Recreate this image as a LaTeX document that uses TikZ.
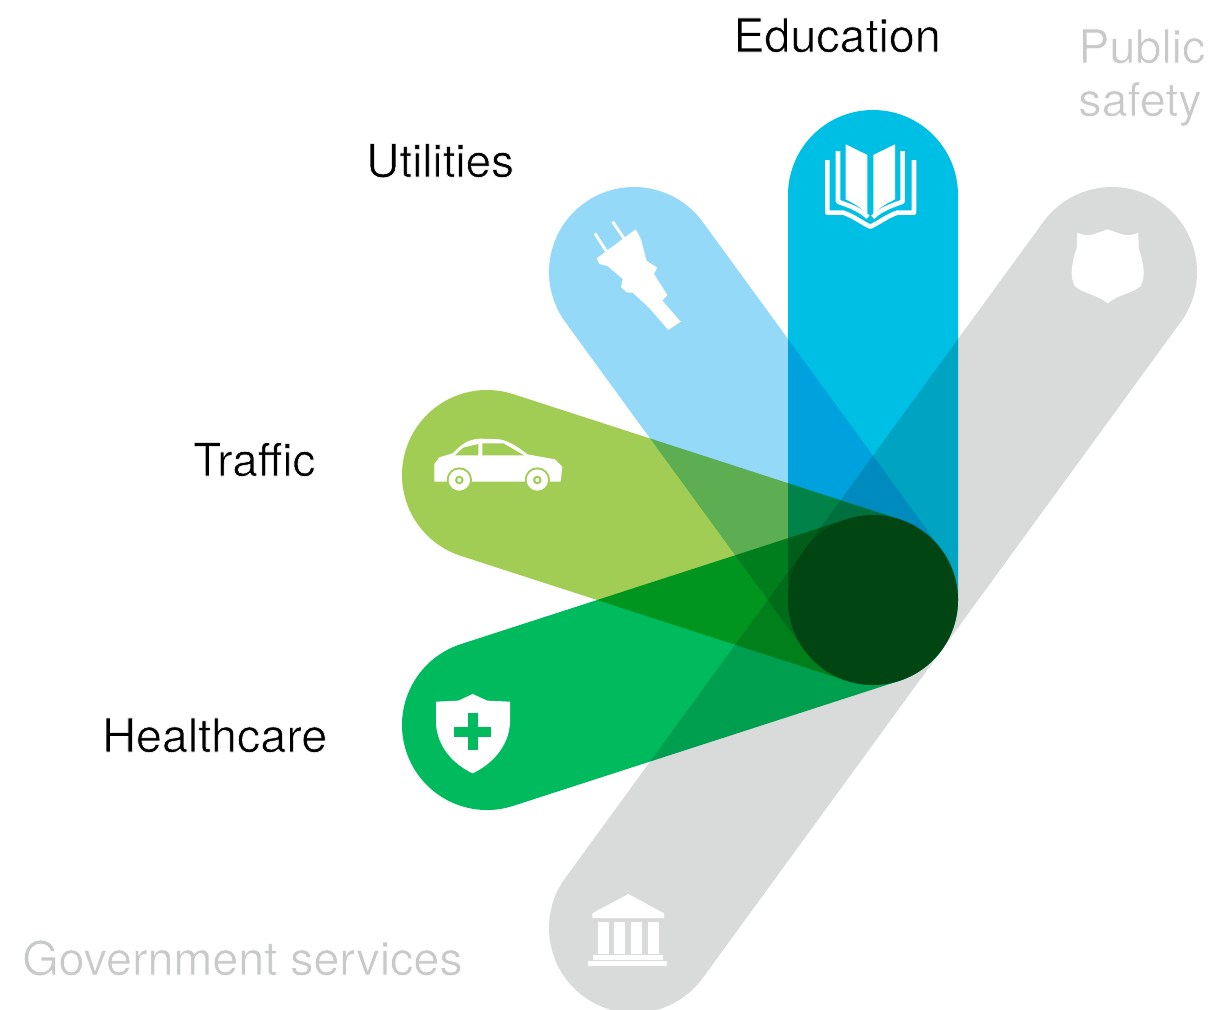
\documentclass[tikz,border=0pt]{standalone}
\usepackage{fontspec}
\setmainfont{TeX Gyre Heros}
\definecolor{edu}{HTML}{00BFE5}
\definecolor{util}{HTML}{94D9F8}
\definecolor{traf}{HTML}{A1CD55}
\definecolor{heal}{HTML}{00BA5E}
\definecolor{gov}{HTML}{D9DBDA}
\definecolor{dimtext}{HTML}{C8CACA}
\newcommand{\lightface}[1]{\special{pdf:code 2 Tr 0.45 w 1 1 1 RG}#1\special{pdf:code 0 Tr 0 0 0 RG}}
\tikzset{
  pill/.style={line width=127.5pt,line cap=round},
  lab/.style={anchor=base west,inner sep=0pt,font=\fontsize{34.4}{40}\selectfont,text=black},
  widelab/.style={lab,font=\fontsize{35}{40}\selectfont},
  dimlab/.style={widelab,text=dimtext},
  icon/.style={fill=white,draw=none},
  iconline/.style={draw=white,line width=3.4pt,line join=round,line cap=butt},
  zoomA/.style={shift={(780,100)},x=.25pt,y=-.25pt},
  zoomB/.style={shift={(540,180)},x=.25pt,y=-.25pt},
  zoomC/.style={shift={(400,400)},x=.25pt,y=-.25pt},
  zoomD/.style={shift={(400,670)},x=.25pt,y=-.25pt},
  zoomE/.style={shift={(560,880)},x=.25pt,y=-.25pt},
}
\begin{document}
\begin{tikzpicture}[x=.75pt,y=-.75pt]
\useasboundingbox (0,0) rectangle (1232,1010);
\clip (0,0) rectangle (1232,1010);
\coordinate (hub) at (873,600);
\coordinate (eduEnd) at (873,195);
\coordinate (utilEnd) at (634,272);
\coordinate (trafEnd) at (487,475);
\coordinate (healEnd) at (487,725);
\coordinate (govEnd) at (634,928);
\coordinate (safeEnd) at (1112,272);
\begin{scope}[blend group=multiply]
  \fill[white] (0,0) rectangle (1232,1010);
  \draw[pill,gov] (hub) -- (safeEnd);
  \draw[pill,gov] (hub) -- (govEnd);
  \draw[pill,heal] (hub) -- (healEnd);
  \draw[pill,traf] (hub) -- (trafEnd);
  \draw[pill,util] (hub) -- (utilEnd);
  \draw[pill,edu] (hub) -- (eduEnd);
\end{scope}
% book
\begin{scope}[zoomA]
  \fill[icon] (197,133) -- (262,165) -- (262,345) .. controls (245,322) and (220,310) .. (197,298) -- cycle;
  \fill[icon] (345,133) -- (280,165) -- (280,345) .. controls (297,322) and (322,310) .. (345,298) -- cycle;
  \draw[iconline] (174,153) -- (174,305) .. controls (210,318) and (240,328) .. (264,352);
  \draw[iconline] (368,153) -- (368,305) .. controls (332,318) and (302,328) .. (278,352);
  \draw[iconline] (142,180) -- (142,338) -- (190,338) .. controls (220,348) and (245,368) .. (271,380) .. controls (297,368) and (322,348) .. (352,338) -- (402,338) -- (402,180);
\end{scope}
% police shield
\begin{scope}[zoomA]
  \fill[icon] (892,398) .. controls (905,405) and (925,408) .. (940,403) -- (983,388) -- (1026,403) .. controls (1041,408) and (1062,405) .. (1075,398) -- (1076,445) .. controls (1092,490) and (1097,530) .. (1082,558) .. controls (1060,580) and (1010,585) .. (983,610) .. controls (956,585) and (906,580) .. (884,558) .. controls (869,530) and (874,490) .. (890,445) -- cycle;
\end{scope}
% plug
\begin{scope}[zoomB]
  \fill[icon,line join=round] (170,235) -- (287,148) -- (302,175) -- (320,243) -- (352,263) -- (342,282) -- (382,345) -- (367,362) -- (422,425) -- (385,450) -- (328,384) -- (278,338) -- (260,337) -- (243,322) -- (248,297) -- (203,258) -- (178,252) -- cycle;
  \draw[draw=white,line width=2.2pt] (165,160) -- (200,215);
  \draw[draw=white,line width=2.2pt] (218,125) -- (255,180);
\end{scope}
% car
\begin{scope}[zoomC]
  \fill[icon] (103,238) -- (103,192) -- (118,172) -- (158,160) .. controls (185,132) and (205,118) .. (240,116) -- (300,118) .. controls (335,126) and (360,146) .. (382,163) -- (465,178) -- (487,200) -- (482,245) -- (103,245) -- cycle;
  \fill[traf] (165,166) -- (190,143) -- (235,132) -- (235,166) -- cycle;
  \fill[traf] (247,130) -- (310,130) -- (372,166) -- (247,166) -- cycle;
  \fill[traf] (178,240) circle[radius=38];
  \fill[traf] (412,240) circle[radius=38];
  \fill[icon] (178,240) circle[radius=32];
  \fill[icon] (412,240) circle[radius=32];
  \fill[traf] (178,240) circle[radius=13];
  \fill[traf] (412,240) circle[radius=13];
  \fill[icon] (178,240) circle[radius=6];
  \fill[icon] (412,240) circle[radius=6];
\end{scope}
% health shield
\begin{scope}[zoomD]
  \fill[icon] (108,95) -- (175,92) -- (218,72) -- (262,92) -- (330,95) -- (330,160) .. controls (325,235) and (270,285) .. (218,310) .. controls (165,285) and (112,235) .. (108,160) -- cycle;
  \fill[heal] (203,130) rectangle (233,240);
  \fill[heal] (163,170) rectangle (273,200);
\end{scope}
% bank
\begin{scope}[zoomE]
  \fill[icon] (97,100) -- (205,42) -- (312,100) -- (312,114) -- (97,114) -- cycle;
  \foreach \cx in {113,163,213,263} {
    \fill[icon] (\cx,125) rectangle ++(33,98);
  }
  \fill[icon] (100,226) rectangle (310,240);
  \fill[icon] (85,242) rectangle (322,258);
\end{scope}
\node[widelab] (tEdu) at (733,52) {\lightface{Education}};
\node[dimlab] (tPub) at (1078,63) {\lightface{Public}};
\node[dimlab] (tSaf) at (1078,116) {\lightface{safety}};
\node[lab] (tUtil) at (366,177) {\lightface{Utilities}};
\node[lab] (tTraf) at (193,476) {\lightface{Traffic}};
\node[widelab] (tHeal) at (102,752) {\lightface{Healthcare}};
\node[dimlab] (tGov) at (22,975) {\lightface{Government services}};
\end{tikzpicture}
\end{document}
